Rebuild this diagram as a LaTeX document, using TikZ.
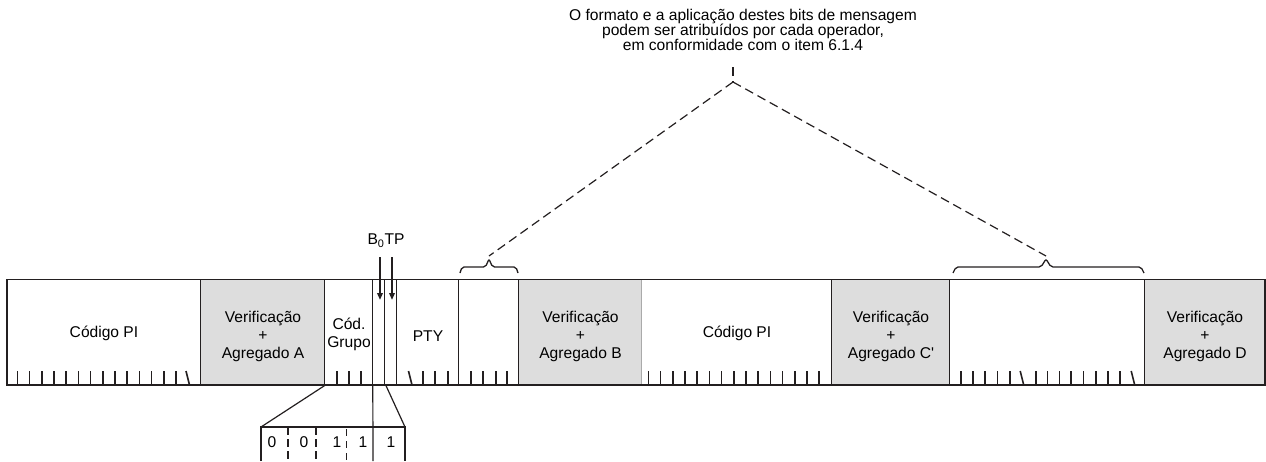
\documentclass[tikz,border=0pt]{standalone}
\usepackage{fontspec}
\setmainfont{Liberation Sans}
\usetikzlibrary{arrows.meta}
\definecolor{vgray}{RGB}{221,221,221}
\definecolor{ink}{RGB}{35,31,32}
\definecolor{lightedge}{RGB}{170,170,170}
\begin{document}
\begin{tikzpicture}[x=1pt,y=-1pt,
  field/.style={draw=none, inner sep=0pt, minimum height=105.5pt},
  vfield/.style={field, fill=vgray},
  txt/.style={inner sep=0pt, align=center, font=\fontsize{15.6}{18}\selectfont, text=black},
  divider/.style={draw=ink, line width=1pt},
  border/.style={draw=ink, line width=1.6pt},
  tick/.style={draw=ink, line width=1.6pt},
  dsh/.style={draw=ink, line width=1.2pt, dash pattern=on 9pt off 5pt},
  arr/.style={draw=ink, line width=2.2pt, -{Triangle[length=7pt,width=5.5pt]}},
  brc/.style={draw=ink, line width=1.3pt, rounded corners=2pt},
  exline/.style={draw=ink, line width=1.2pt}
]
\useasboundingbox (0,0) rectangle (1266,461);

% fields
\node[field, minimum width=194pt] (pi1) at (104,332.25) {};
\node[vfield, minimum width=124pt] (va) at (263,332.25) {};
\node[field, minimum width=48pt] (cg) at (349,332.25) {};
\node[field, minimum width=12pt] (b0) at (379,332.25) {};
\node[field, minimum width=12pt] (tp) at (391,332.25) {};
\node[field, minimum width=62pt] (pty) at (428,332.25) {};
\node[field, minimum width=60pt] (bl1) at (489,332.25) {};
\node[vfield, minimum width=123pt] (vb) at (580.5,332.25) {};
\node[field, minimum width=190pt] (pi2) at (737,332.25) {};
\node[vfield, minimum width=118pt] (vc) at (891,332.25) {};
\node[field, minimum width=195pt] (bl2) at (1047.5,332.25) {};
\node[vfield, minimum width=120pt] (vd) at (1205,332.25) {};

% texts
\node[txt] (tpi1) at ([yshift=-1pt]pi1.center) {Código PI};
\node[txt] (tva) at ([yshift=-4pt]va.center) {Verificação\\+\\Agregado A};
\node[txt] (tcg) at ([yshift=-2pt]cg.center) {Cód.\\Grupo};
\node[txt] (tpty) at ([yshift=-4pt]pty.center) {PTY};
\node[txt] (tvb) at ([yshift=-4pt]vb.center) {Verificação\\+\\Agregado B};
\node[txt] (tpi2) at ([yshift=-1pt]pi2.center) {Código PI};
\node[txt] (tvc) at ([yshift=-4pt]vc.center) {Verificação\\+\\Agregado C\textquotesingle};
\node[txt] (tvd) at ([yshift=-4pt]vd.center) {Verificação\\+\\Agregado D};

% dividers
\foreach \n in {va,cg,b0,tp,pty,bl1,vb,vc,bl2}
  \draw[divider] (\n.north west) -- (\n.south west);
\draw[divider, draw=lightedge] (pi2.north west) -- (pi2.south west);
\draw[divider] (vd.north west) -- (vd.south west);
\draw[border] (pi1.north west) rectangle (vd.south east);

% ticks
\foreach \k in {0,...,13} \draw[tick] (17.3+12.2*\k,371) -- (17.3+12.2*\k,385);
\draw[tick] (186,371) -- (189.5,385);
\foreach \x in {337,349,361} \draw[tick] (\x,371) -- (\x,385);
\draw[tick] (408.5,371) -- (412,385);
\foreach \x in {423,435,448} \draw[tick] (\x,371) -- (\x,385);
\foreach \x in {471,483,496,507} \draw[tick] (\x,371) -- (\x,385);
\foreach \k in {0,...,14} \draw[tick] (648.3+12.2*\k,371) -- (648.3+12.2*\k,385);
\foreach \x in {960.7,972.7,985,997.3,1010,1035.7,1047.3,1059.3,1071,1083.3,1095.7,1107.7,1120} \draw[tick] (\x,371) -- (\x,385);
\draw[tick] (1020.2,371) -- (1023.7,385);
\draw[tick] (1131.2,371) -- (1134.7,385);

% B0TP arrows
\node[txt] (lbl) at (386,241) {B\textsubscript{0}TP};
\coordinate (a1s) at (380,257);
\coordinate (a2s) at (392,257);
\coordinate (a1e) at (380,300);
\coordinate (a2e) at (392,300);
\draw[arr] (a1s) -- (a1e);
\draw[arr] (a2s) -- (a2e);

% braces
\coordinate (br1) at (489,259);
\coordinate (br2) at (1046,259);
\draw[brc] (460,273) -- (462,267) -- (485.5,267) -- (br1) -- (492.5,267) -- (516,267) -- (518,273);
\draw[brc] (953,273) -- (956,267) -- (1041,267) -- (br2) -- (1051,267) -- (1141,267) -- (1144,273);

% note and dashed lines
\node[inner sep=0pt, align=center, font=\fontsize{15.6}{15}\selectfont] (note) at (743,30)
  {O formato e a aplicação destes bits de mensagem\\podem ser atribuídos por cada operador,\\em conformidade com o item 6.1.4};
\coordinate (apex) at (733,82);
\coordinate (ntop) at (733,67);
\draw[dsh, line width=1.8pt, dash pattern=on 9pt off 5pt] (ntop) -- (apex);
\draw[dsh] (apex) -- ([yshift=3pt]br1);
\draw[dsh] (apex) -- ([yshift=3pt]br2);

% expansion of group code bits
\coordinate (e1) at (261,427);
\coordinate (e2) at (405,427);
\coordinate (e1b) at (261,461);
\coordinate (e2b) at (405,461);
\draw[exline] (va.south east) -- (e1);
\draw[exline] ([xshift=1pt]tp.south west) -- (e2);
\draw[exline] (e1b) -- (e1) -- (e2) -- (e2b);
\draw[exline] (b0.south west) -- (373,461);
\draw[exline, line width=1.8pt, dash pattern=on 8pt off 4pt] (288,427) -- (288,461);
\draw[exline, line width=1.8pt, dash pattern=on 8pt off 4pt] (316,427) -- (316,461);
\draw[exline, line width=0.9pt, dash pattern=on 7pt off 5pt] (346,429) -- (346,461);
\node[txt] (d1) at (272,442) {0};
\node[txt] (d2) at (304,442) {0};
\node[txt] (d3) at (337,442) {1};
\node[txt] (d4) at (363,442) {1};
\node[txt] (d5) at (391,442) {1};
\end{tikzpicture}
\end{document}
